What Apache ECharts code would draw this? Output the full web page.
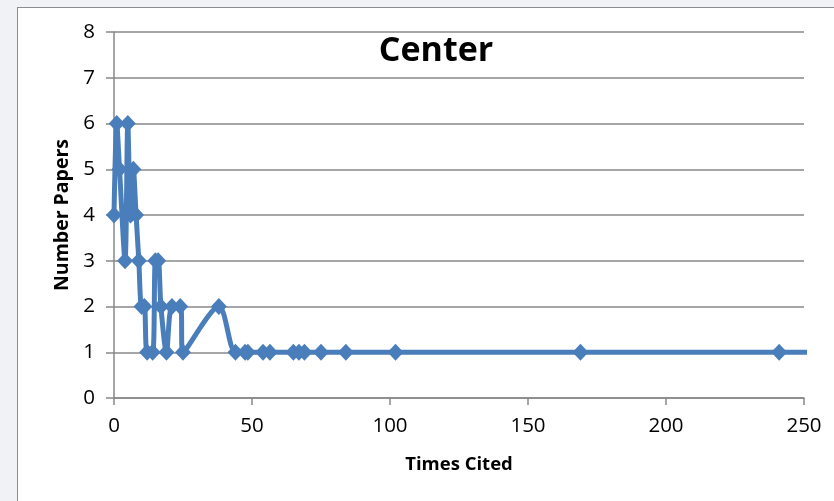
<!DOCTYPE html>
<html>
<head>
<meta charset="utf-8">
<script src="https://cdn.jsdelivr.net/npm/echarts@6/dist/echarts.min.js"></script>
<style>
  html, body { margin: 0; padding: 0; background: #f1f2f6; }
  #box { position: absolute; left: 17px; top: 7px; width: 900px; height: 600px; background: #fff; border: 1px solid #8c8c8c; box-sizing: border-box; }
  #chart { position: absolute; left: 0; top: 0; width: 834px; height: 501px; }
</style>
</head>
<body>
<div id="box"></div>
<div id="chart"></div>
<script>
const timesCited   = [0, 1, 2, 4, 5, 6, 7, 8, 9, 10, 11, 12, 14, 15, 16, 17, 19, 21, 24, 25, 38, 44, 47.5, 48.5, 54, 56.5, 65, 67, 69, 75, 84, 102, 169, 241, 300];
const numberPapers = [4, 6, 5, 3, 6, 4, 5, 4, 3, 2, 2, 1, 1, 3, 3, 2, 1, 2, 2, 1, 2, 1, 1, 1, 1, 1, 1, 1, 1, 1, 1, 1, 1, 1, 1];
const xTicks = [0, 50, 100, 150, 200, 250];
const yTicks = [0, 1, 2, 3, 4, 5, 6, 7, 8];
const titleText = 'Center';
const xName = 'Times Cited';
const yName = 'Number Papers';

const points = timesCited.map((x, i) => [x, numberPapers[i]]);
const chart = echarts.init(document.getElementById('chart'), null, { renderer: 'canvas' });
const gray = '#888888';
const font = 'Open Sans';
chart.setOption({
  animation: false,
  backgroundColor: 'transparent',
  title: {
    text: titleText, left: 431, top: 29, textAlign: 'center',
    textStyle: { fontFamily: font, fontWeight: 'bold', fontSize: 34, color: '#000' }
  },
  grid: { left: 114, top: 32, right: 30, bottom: 103, containLabel: false },
  xAxis: {
    type: 'value', min: xTicks[0], max: xTicks[xTicks.length - 1], interval: 50,
    name: xName, nameLocation: 'middle', nameGap: 57,
    nameTextStyle: { fontFamily: font, fontWeight: 'bold', fontSize: 18.5, color: '#000' },
    axisLine: { show: true, lineStyle: { color: gray, width: 1.5 } },
    axisTick: { show: true, length: 7, lineStyle: { color: gray, width: 1.5 } },
    axisLabel: { fontFamily: font, fontSize: 20.5, color: '#000', margin: 18 },
    splitLine: { show: false }
  },
  yAxis: {
    type: 'value', min: yTicks[0], max: yTicks[yTicks.length - 1], interval: 1,
    name: yName, nameLocation: 'middle', nameGap: 40, nameRotate: 90,
    nameTextStyle: { fontFamily: font, fontWeight: 'bold', fontSize: 19.5, color: '#000' },
    axisLine: { show: true, lineStyle: { color: gray, width: 1.5 } },
    axisTick: { show: true, length: 8, lineStyle: { color: gray, width: 1.5 } },
    axisLabel: { fontFamily: font, fontSize: 20.5, color: '#000', margin: 19 },
    splitLine: { show: true, lineStyle: { color: gray, width: 1.5 } }
  },
  series: [{
    type: 'line',
    data: points,
    smooth: 0.3,
    clip: true,
    symbol: 'diamond',
    symbolSize: [16, 17],
    itemStyle: { color: '#4a7ebb' },
    lineStyle: { color: '#4a7ebb', width: 5 }
  }]
});
</script>
</body>
</html>
